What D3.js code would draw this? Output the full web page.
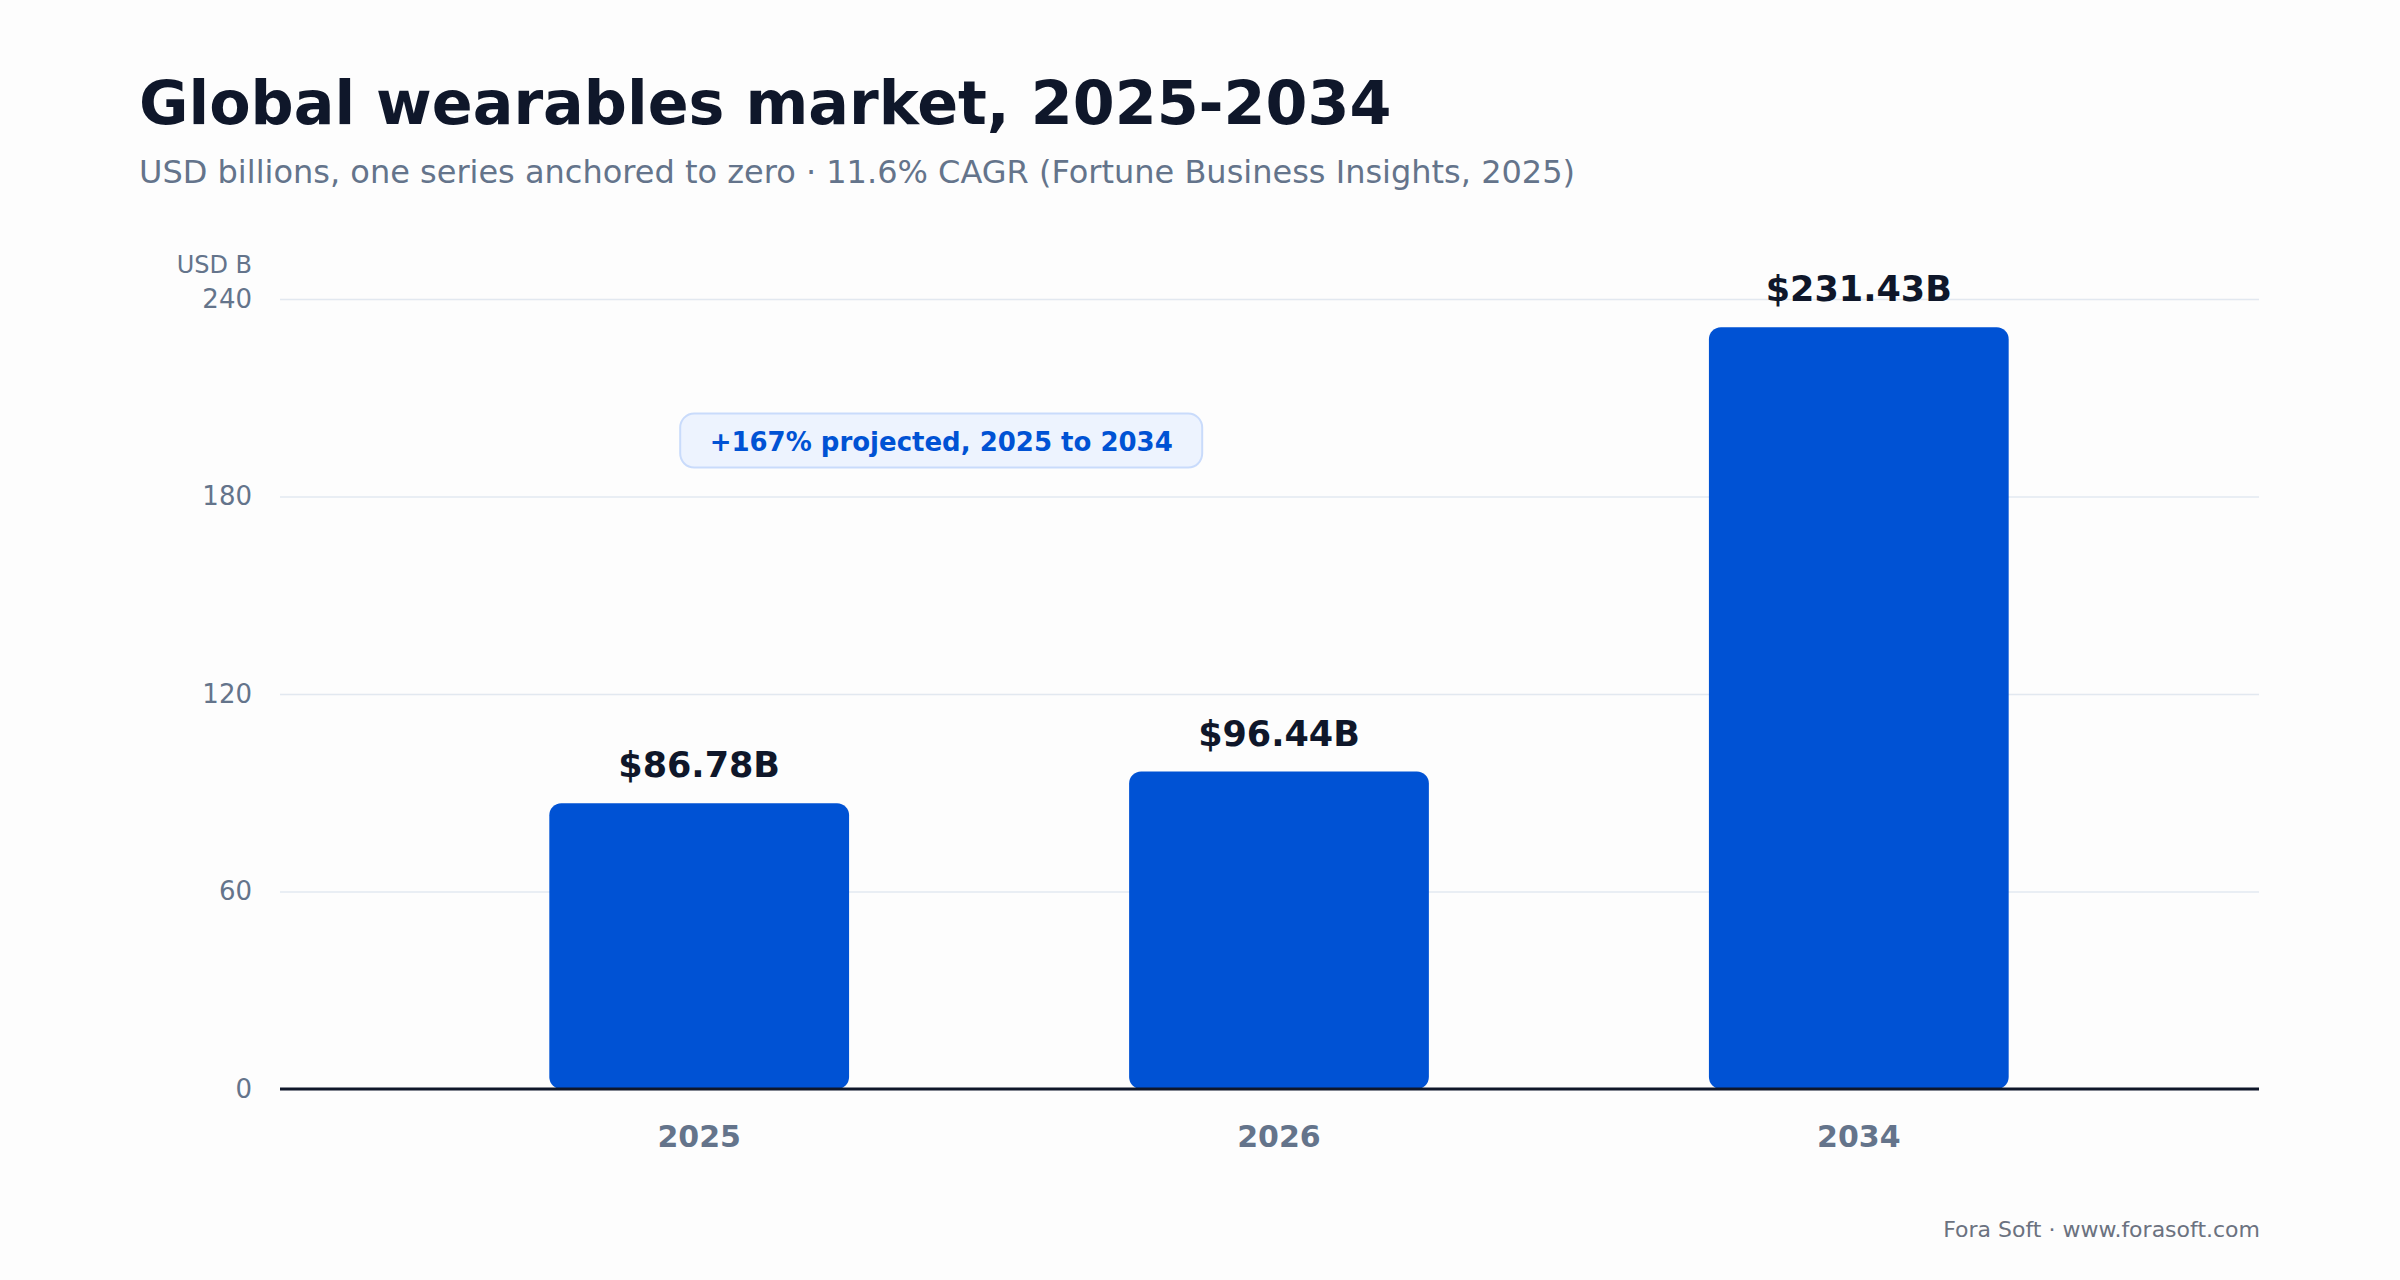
<!DOCTYPE html>
<html lang="en">
<head>
<meta charset="UTF-8">
<title>Global wearables market</title>
<script src="https://d3js.org/d3.v7.min.js"></script>
<style>
  html, body { margin: 0; padding: 0; background: #fdfdfd; }
  svg { display: block; font-family: "DejaVu Sans", sans-serif; }
</style>
</head>
<body>
<div id="chart"></div>
<script>
// data
var years = ['2025', '2026', '2034'];
var marketUsdB = [86.78, 96.44, 231.43];
var valueLabels = ['$86.78B', '$96.44B', '$231.43B'];
var yTicks = [0, 60, 120, 180, 240];
var badgeText = '+167% projected, 2025 to 2034';

var W = 2400, H = 1280;
var margin = { top: 299, right: 141, bottom: 191, left: 280 };
var width = W - margin.left - margin.right,
    height = H - margin.top - margin.bottom;

var svg = d3.select('#chart').append('svg')
  .attr('width', W)
  .attr('height', H);

svg.append('rect').attr('width', W).attr('height', H).attr('fill', '#fdfdfd');

// headings
svg.append('text')
  .attr('x', 139).attr('y', 124)
  .attr('font-size', 60.3).attr('font-weight', 'bold')
  .attr('fill', '#0f172a')
  .text('Global wearables market, 2025-2034');

svg.append('text')
  .attr('x', 139).attr('y', 183)
  .attr('font-size', 32)
  .attr('fill', '#64748b')
  .text('USD billions, one series anchored to zero \u00b7 11.6% CAGR (Fortune Business Insights, 2025)');

var g = svg.append('g')
  .attr('transform', 'translate(' + margin.left + ',' + margin.top + ')');

// bands sit a little right of centre, as in the source
var x = d3.scaleBand()
  .domain(years)
  .range([20, width - 1])
  .paddingInner(0.483)
  .paddingOuter(0.43);

var y = d3.scaleLinear()
  .domain([0, 240])
  .range([height, 0]);

// grid
var yAxis = d3.axisLeft(y).tickValues(yTicks).tickSize(-width).tickPadding(28);
var yg = g.append('g').call(yAxis);
yg.select('.domain').remove();
yg.selectAll('.tick line').attr('stroke', '#e2e8f0').attr('stroke-width', 1.5);
yg.selectAll('.tick text')
  .attr('font-family', '"DejaVu Sans", sans-serif')
  .attr('font-size', 26).attr('fill', '#64748b');

g.append('text')
  .attr('x', -28).attr('y', -26)
  .attr('text-anchor', 'end')
  .attr('font-size', 24).attr('fill', '#64748b')
  .text('USD B');

// bars
g.selectAll('rect.bar').data(marketUsdB)
  .enter().append('rect')
  .attr('class', 'bar')
  .attr('x', function(d, i) { return x(years[i]); })
  .attr('y', function(d) { return y(d); })
  .attr('width', x.bandwidth())
  .attr('height', function(d) { return y(0) - y(d); })
  .attr('rx', 12).attr('ry', 12)
  .attr('fill', '#0052d4');

g.selectAll('text.val').data(marketUsdB)
  .enter().append('text')
  .attr('class', 'val')
  .attr('x', function(d, i) { return x(years[i]) + x.bandwidth() / 2; })
  .attr('y', function(d) { return y(d) - 26; })
  .attr('text-anchor', 'middle')
  .attr('font-size', 35).attr('font-weight', 'bold')
  .attr('fill', '#0f172a')
  .text(function(d, i) { return valueLabels[i]; });

// baseline + x axis
var xAxis = d3.axisBottom(x).tickSize(0).tickPadding(37);
var xg = g.append('g').attr('transform', 'translate(0,' + height + ')').call(xAxis);
xg.select('.domain')
  .attr('d', 'M0,0H' + width)
  .attr('stroke', '#0f172a').attr('stroke-width', 3);
xg.selectAll('.tick text')
  .attr('font-family', '"DejaVu Sans", sans-serif')
  .attr('font-size', 30).attr('font-weight', 'bold')
  .attr('fill', '#64748b');

// badge
var bx = x('2025') + x.bandwidth() / 2 - 19, by = y(197) - 27;
g.append('rect')
  .attr('x', bx).attr('y', by)
  .attr('width', 522).attr('height', 54)
  .attr('rx', 14)
  .attr('fill', '#edf3fe').attr('stroke', '#c9dbfb').attr('stroke-width', 2);
g.append('text')
  .attr('x', bx + 261).attr('y', by + 37)
  .attr('text-anchor', 'middle')
  .attr('font-size', 26).attr('font-weight', 'bold')
  .attr('fill', '#0052d4')
  .text(badgeText);

// footer
svg.append('text')
  .attr('x', 2260).attr('y', 1237)
  .attr('text-anchor', 'end')
  .attr('font-size', 22).attr('fill', '#6b7280')
  .text('Fora Soft \u00b7 www.forasoft.com');
</script>
</body>
</html>
